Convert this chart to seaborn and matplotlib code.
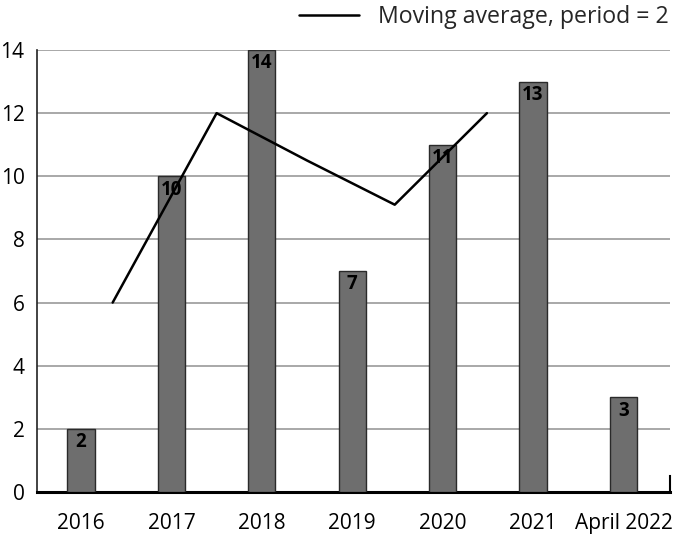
import matplotlib
matplotlib.use("Agg")
import matplotlib.pyplot as plt
import seaborn as sns
import pandas as pd

categories = ["2016", "2017", "2018", "2019", "2020", "2021", "April 2022"]
values = [2, 10, 14, 7, 11, 13, 3]
ma_x = [0.35, 1.5, 2.5, 3.47, 4.49]
ma_values = [6, 12, 10.5, 9.1, 12]
yticks = [0, 2, 4, 6, 8, 10, 12, 14]

sns.set_theme(style="white")
plt.rcParams["font.family"] = ["Open Sans", "DejaVu Sans"]

fig = plt.figure(figsize=(6.8, 5.38), dpi=100)
ax = fig.add_axes([37/680, 1-492/538, (670-37)/680, (492-50)/538])

df = pd.DataFrame({"cat": categories, "val": values})
sns.barplot(data=df, x="cat", y="val", ax=ax, color="#6e6e6e", saturation=1,
            width=0.3, edgecolor="#2a2a2a", linewidth=1.0, zorder=3)

ma = pd.DataFrame({"x": ma_x, "y": ma_values})
sns.lineplot(data=ma, x="x", y="y", ax=ax, color="black", linewidth=1.8,
             zorder=4, label="Moving average, period = 2", legend=False)

for i, v in enumerate(values):
    ax.text(i, v - 0.42, str(v), ha="center", va="center", fontsize=13.5,
            fontweight="bold", color="black", zorder=5)

ax.set_ylim(0, 14)
ax.set_xlim(-0.487, 6.515)
ax.set_yticks(yticks)
ax.set_yticklabels([str(t) for t in yticks])
ax.yaxis.grid(True, color="#9a9a9a", linewidth=1.2, zorder=0)
ax.xaxis.grid(False)
ax.set_axisbelow(True)
ax.set_xlabel("")
ax.set_ylabel("")
ax.tick_params(axis="both", length=0, labelsize=15, colors="black")
ax.tick_params(axis="x", pad=15)
ax.tick_params(axis="y", pad=9)

for s in ["top"]:
    ax.spines[s].set_visible(False)
ax.spines["left"].set_color("#222222")
ax.spines["left"].set_linewidth(1.2)
ax.spines["bottom"].set_color("black")
ax.spines["bottom"].set_linewidth(2.2)
ax.spines["right"].set_color("black")
ax.spines["right"].set_linewidth(1.5)
ax.spines["right"].set_bounds(0, 0.5)

handles, labels = ax.get_legend_handles_labels()
fig.legend(handles, labels, loc="center right", bbox_to_anchor=(0.983, 0.968),
           frameon=False, fontsize=16.7, handlelength=2.6, handletextpad=0.8,
           borderpad=0, borderaxespad=0)

fig.savefig("out.png", dpi=100)
